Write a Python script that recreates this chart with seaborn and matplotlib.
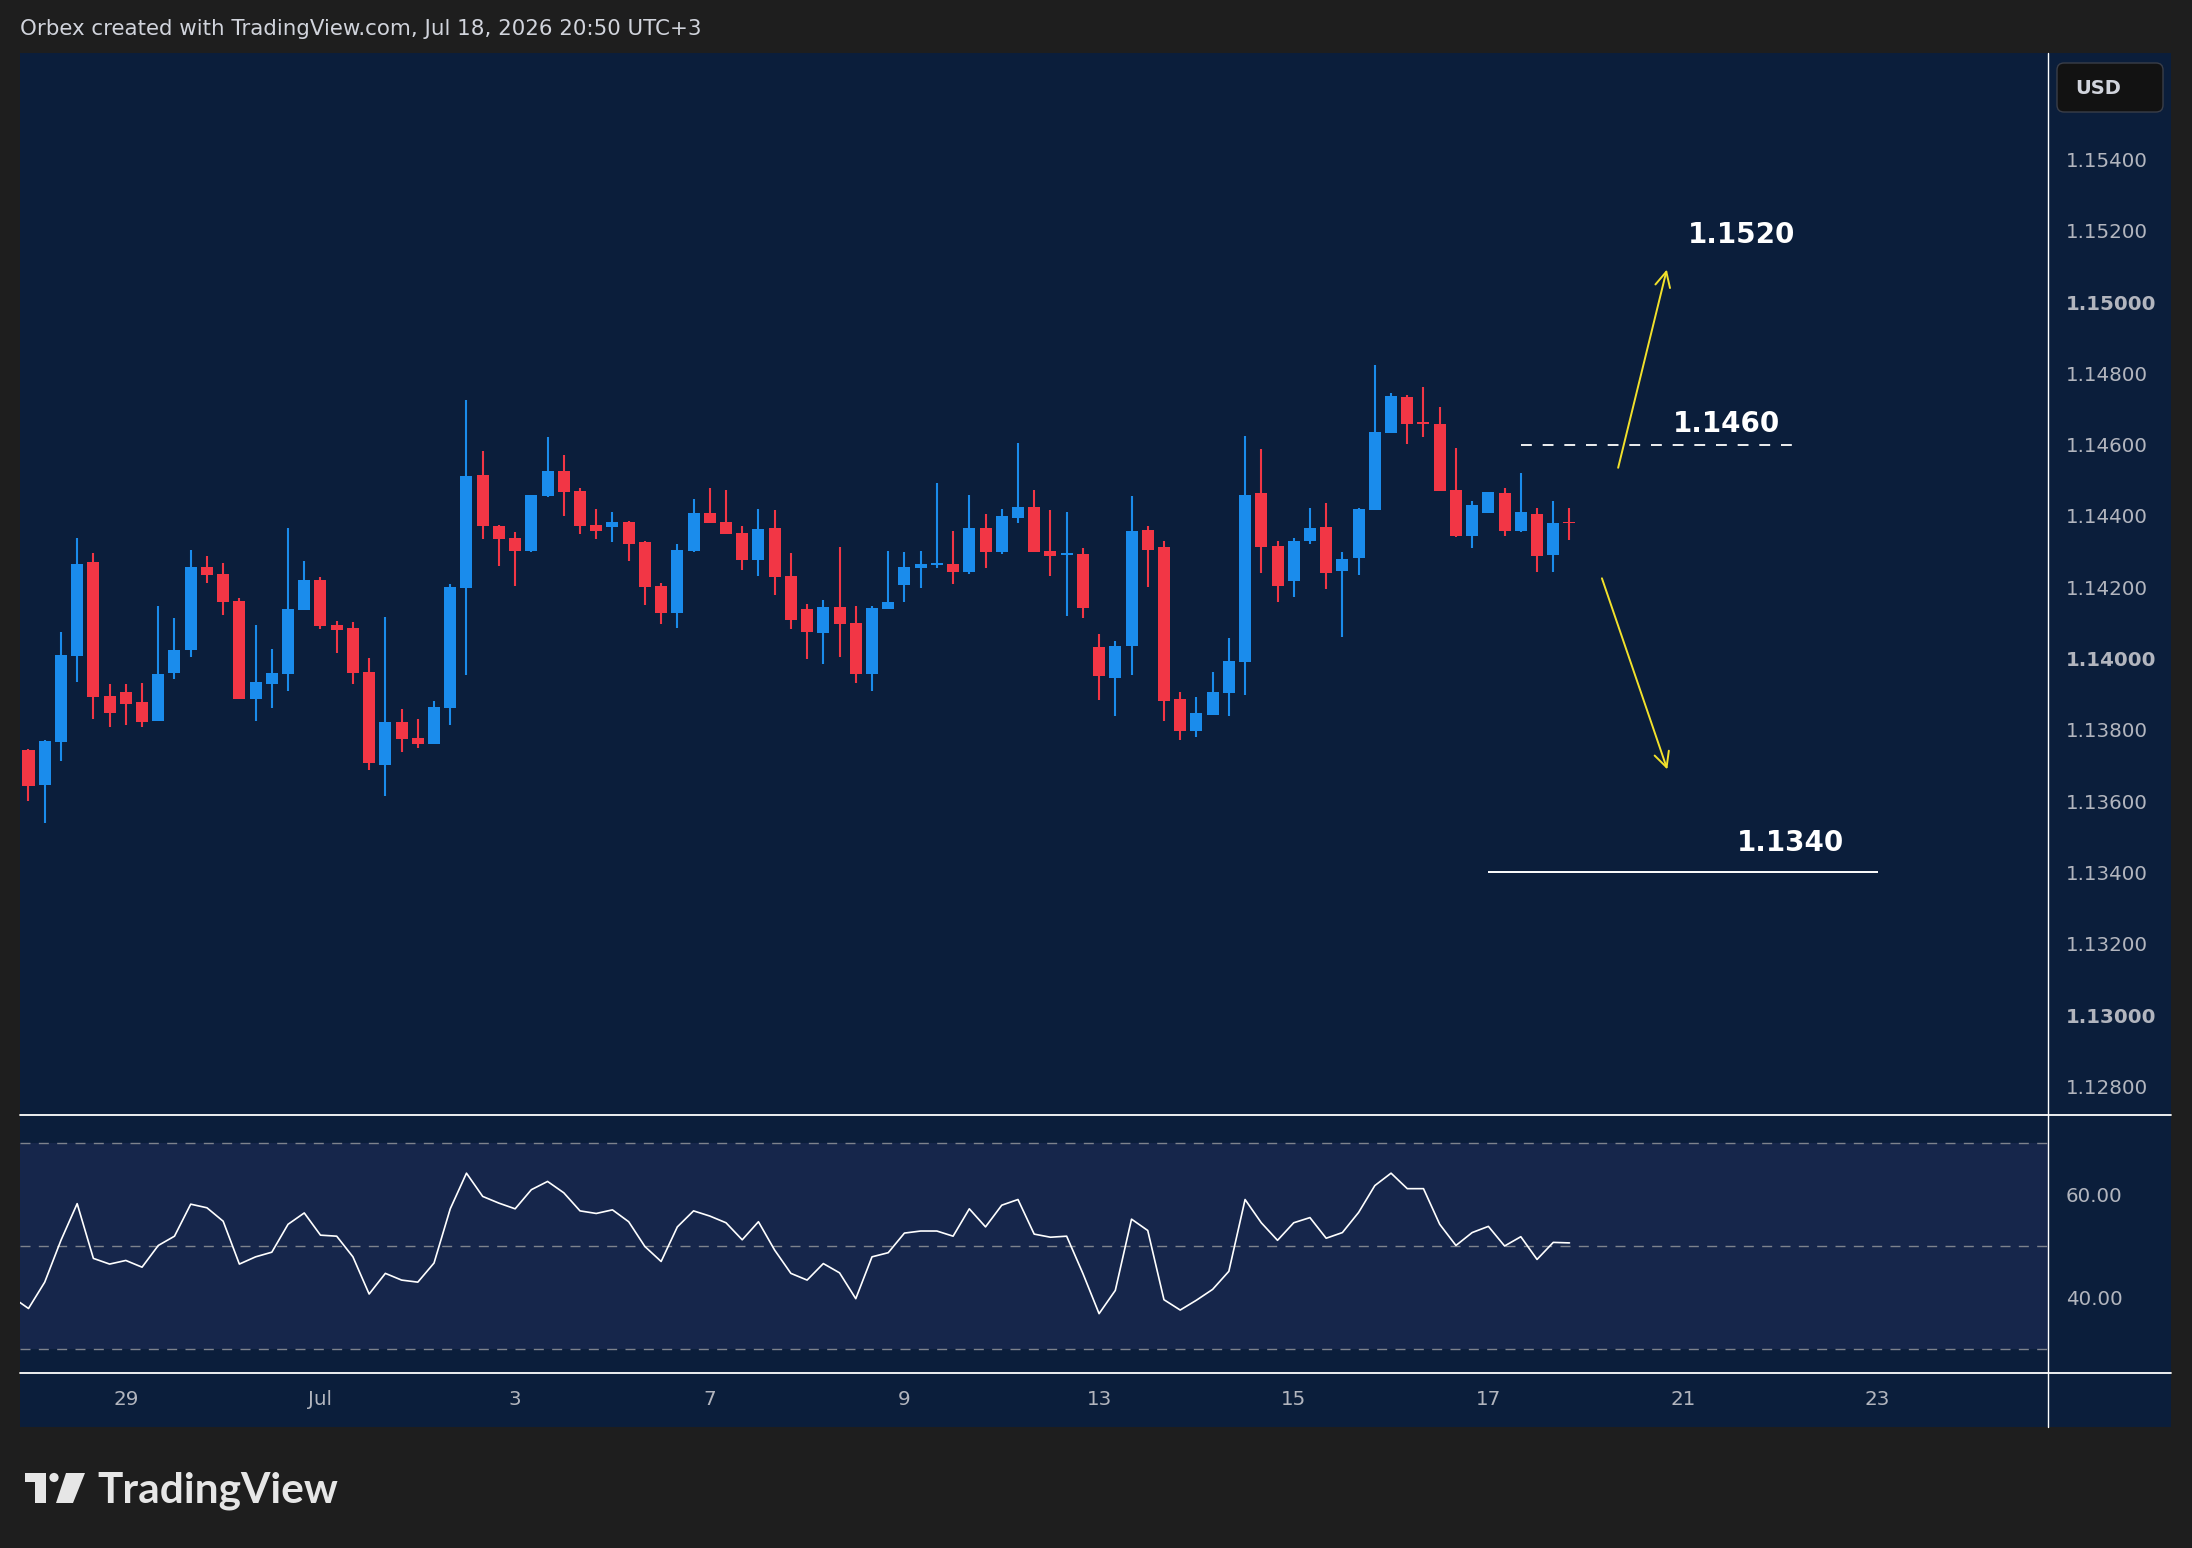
import numpy as np
import matplotlib
matplotlib.use("Agg")
import matplotlib.pyplot as plt
import seaborn as sns
from matplotlib.patches import Rectangle, FancyBboxPatch, Polygon, Circle

# ---------------- data (4H candles, Jun 26 - Jul 17) ----------------
opens = [
    1.13743, 1.13645, 1.13767, 1.14007, 1.14271, 1.13895, 1.13906, 1.13878, 1.13825, 1.13960,
    1.14025, 1.14256, 1.14237, 1.14161, 1.13887, 1.13929, 1.13957, 1.14137, 1.14220, 1.14094,
    1.14085, 1.13962, 1.13702, 1.13822, 1.13777, 1.13761, 1.13862, 1.14198, 1.14515, 1.14371,
    1.14338, 1.14302, 1.14456, 1.14526, 1.14470, 1.14374, 1.14370, 1.14383, 1.14327, 1.14203,
    1.14128, 1.14302, 1.14408, 1.14383, 1.14352, 1.14277, 1.14366, 1.14231, 1.14139, 1.14072,
    1.14144, 1.14099, 1.13957, 1.14140, 1.14207, 1.14255, 1.14263, 1.14265, 1.14243, 1.14366,
    1.14299, 1.14395, 1.14425, 1.14301, 1.14291, 1.14293, 1.14032, 1.13946, 1.14036, 1.14360,
    1.14313, 1.13886, 1.13797, 1.13842, 1.13904, 1.13991, 1.14464, 1.14315, 1.14218, 1.14330,
    1.14369, 1.14246, 1.14282, 1.14417, 1.14633, 1.14733, 1.14664, 1.14657, 1.14472, 1.14344,
    1.14409, 1.14464, 1.14358, 1.14405, 1.14291, 1.14383,
]
highs = [
    1.13746, 1.13771, 1.14074, 1.14338, 1.14296, 1.13928, 1.13928, 1.13931, 1.14147, 1.14113,
    1.14304, 1.14287, 1.14268, 1.14170, 1.14094, 1.14027, 1.14366, 1.14273, 1.14228, 1.14105,
    1.14102, 1.14001, 1.14116, 1.13858, 1.13830, 1.13881, 1.14209, 1.14725, 1.14582, 1.14374,
    1.14355, 1.14458, 1.14621, 1.14571, 1.14478, 1.14419, 1.14411, 1.14386, 1.14329, 1.14212,
    1.14321, 1.14447, 1.14478, 1.14472, 1.14371, 1.14419, 1.14416, 1.14296, 1.14153, 1.14164,
    1.14313, 1.14147, 1.14147, 1.14301, 1.14299, 1.14301, 1.14492, 1.14357, 1.14458, 1.14405,
    1.14419, 1.14604, 1.14472, 1.14416, 1.14411, 1.14310, 1.14069, 1.14049, 1.14456, 1.14371,
    1.14329, 1.13906, 1.13892, 1.13962, 1.14057, 1.14624, 1.14587, 1.14329, 1.14338, 1.14422,
    1.14436, 1.14298, 1.14422, 1.14823, 1.14744, 1.14739, 1.14761, 1.14705, 1.14590, 1.14441,
    1.14467, 1.14478, 1.14520, 1.14422, 1.14441, 1.14422,
]
lows = [
    1.13601, 1.13539, 1.13713, 1.13935, 1.13831, 1.13809, 1.13814, 1.13809, 1.13825, 1.13943,
    1.14005, 1.14213, 1.14123, 1.13887, 1.13825, 1.13862, 1.13910, 1.14137, 1.14084, 1.14016,
    1.13929, 1.13688, 1.13615, 1.13739, 1.13750, 1.13761, 1.13814, 1.13954, 1.14336, 1.14260,
    1.14204, 1.14299, 1.14454, 1.14400, 1.14350, 1.14336, 1.14328, 1.14274, 1.14151, 1.14098,
    1.14086, 1.14299, 1.14381, 1.14350, 1.14249, 1.14232, 1.14179, 1.14084, 1.13999, 1.13985,
    1.14005, 1.13932, 1.13910, 1.14140, 1.14159, 1.14199, 1.14255, 1.14210, 1.14238, 1.14255,
    1.14294, 1.14381, 1.14299, 1.14232, 1.14120, 1.14114, 1.13884, 1.13840, 1.13954, 1.14201,
    1.13825, 1.13772, 1.13781, 1.13842, 1.13840, 1.13898, 1.14240, 1.14159, 1.14173, 1.14322,
    1.14196, 1.14061, 1.14235, 1.14417, 1.14633, 1.14602, 1.14622, 1.14470, 1.14341, 1.14310,
    1.14409, 1.14344, 1.14355, 1.14243, 1.14243, 1.14333,
]
closes = [
    1.13643, 1.13768, 1.14010, 1.14265, 1.13893, 1.13848, 1.13873, 1.13823, 1.13956, 1.14024,
    1.14256, 1.14235, 1.14159, 1.13887, 1.13934, 1.13959, 1.14139, 1.14220, 1.14092, 1.14081,
    1.13960, 1.13708, 1.13822, 1.13775, 1.13761, 1.13864, 1.14200, 1.14512, 1.14372, 1.14336,
    1.14302, 1.14458, 1.14526, 1.14468, 1.14372, 1.14358, 1.14383, 1.14322, 1.14201, 1.14128,
    1.14304, 1.14408, 1.14381, 1.14350, 1.14277, 1.14363, 1.14229, 1.14109, 1.14075, 1.14144,
    1.14098, 1.13957, 1.14142, 1.14158, 1.14256, 1.14265, 1.14268, 1.14243, 1.14366, 1.14299,
    1.14400, 1.14425, 1.14299, 1.14288, 1.14297, 1.14142, 1.13952, 1.14035, 1.14357, 1.14305,
    1.13882, 1.13797, 1.13847, 1.13906, 1.13993, 1.14458, 1.14313, 1.14204, 1.14329, 1.14366,
    1.14240, 1.14279, 1.14419, 1.14635, 1.14736, 1.14658, 1.14659, 1.14470, 1.14344, 1.14430,
    1.14467, 1.14358, 1.14411, 1.14288, 1.14380, 1.14379,
]
# RSI: first value belongs to the bar just left of the visible window
rsi_values = [
    40.1,
    37.9, 43.0, 51.1, 58.2, 47.6, 46.5, 47.2, 45.9, 50.1, 51.9,
    58.1, 57.4, 54.8, 46.5, 47.9, 48.8, 54.2, 56.4, 52.1, 51.9,
    47.9, 40.7, 44.7, 43.4, 43.0, 46.7, 57.2, 64.1, 59.6, 58.3,
    57.2, 60.9, 62.5, 60.3, 56.8, 56.3, 57.0, 54.7, 49.9, 47.0,
    53.7, 56.8, 55.8, 54.5, 51.2, 54.7, 49.2, 44.7, 43.4, 46.6,
    44.8, 39.8, 47.9, 48.7, 52.5, 52.9, 52.9, 51.9, 57.2, 53.7,
    57.9, 59.0, 52.3, 51.7, 51.9, 44.7, 36.9, 41.4, 55.2, 53.0,
    39.6, 37.6, 39.5, 41.6, 45.1, 59.0, 54.5, 51.1, 54.5, 55.5,
    51.5, 52.6, 56.5, 61.7, 64.1, 61.1, 61.1, 54.2, 50.1, 52.6,
    53.8, 50.0, 51.8, 47.4, 50.7, 50.6,
]
date_labels = ["29", "Jul", "3", "7", "9", "13", "15", "17", "21", "23"]
date_label_bars = [6, 18, 30, 42, 54, 66, 78, 90, 102, 114]
price_ticks = [1.128, 1.130, 1.132, 1.134, 1.136, 1.138, 1.140, 1.142, 1.144,
               1.146, 1.148, 1.150, 1.152, 1.154]
rsi_ticks = [40, 60]
rsi_levels = [70, 50, 30]
level_up = 1.1520
level_pivot = 1.1460
level_down = 1.1340

# ---------------- style ----------------
FRAME = "#1e1e1e"
NAVY = "#0b1e3b"
BAND = "#16264b"
BLUE = "#1a8cec"
RED = "#f23645"
LABEL = "#b2b5be"
YELLOW = "#f2e12b"

sns.set_theme(style="dark")
plt.rcParams["font.family"] = ["DejaVu Sans"]

W, H = 2192, 1548
fig = plt.figure(figsize=(W / 100, H / 100), dpi=100, facecolor=FRAME)


def fx(px):
    return px / W


def fy(py):
    return 1 - py / H


# background navy chart area
bg = fig.add_axes([0, 0, 1, 1], zorder=0)
bg.set_xlim(0, W)
bg.set_ylim(H, 0)
bg.axis("off")
bg.add_patch(Rectangle((20, 53), 2151, 1374, color=NAVY, lw=0))

X0, X1 = -0.524, 124.5

# ---------------- price pane ----------------
ax = fig.add_axes([fx(20), fy(1115), fx(2048) - fx(20), fy(53) - fy(1115)], zorder=2)
ax.set_facecolor(NAVY)
o = np.array(opens); h = np.array(highs); l = np.array(lows); c = np.array(closes)
x = np.arange(len(o))
cols = np.where(c >= o, BLUE, RED)
ax.vlines(x, l, h, colors=cols, lw=1.5, zorder=2)
ax.bar(x, np.maximum(np.abs(c - o), 0.00003), bottom=np.minimum(o, c), width=0.74,
       color=cols, lw=0, zorder=3)

ax.set_xlim(X0, X1)
ax.set_ylim(1.127195, 1.156985)
for s in ax.spines.values():
    s.set_visible(False)
ax.grid(False)
ax.set_xticks([])
ax.yaxis.tick_right()
ax.set_yticks(price_ticks)
ax.set_yticklabels([f"{t:.5f}" for t in price_ticks])
ax.tick_params(axis="y", length=0, pad=13, labelsize=14.3, labelcolor=LABEL)
for lbl in ax.get_yticklabels():
    if lbl.get_text().endswith("000"):
        lbl.set_fontweight("bold")

# annotations
ax.hlines(level_pivot, 92.0, 108.9, colors="white", lw=1.3, linestyles=(0, (6, 6)), zorder=4)
ax.hlines(level_down, 90.0, 114.0, colors="white", lw=1.4, zorder=4)
tkw = dict(color="white", fontsize=20, fontweight="bold", ha="center", va="center")
ax.annotate("1.1520", xy=(105.6, level_up), xytext=(0, -3), textcoords="offset points", **tkw)
ax.annotate("1.1460", xy=(104.65, level_pivot), xytext=(0, 15), textcoords="offset points", **tkw)
ax.annotate("1.1340", xy=(108.65, level_down), xytext=(0, 21.5), textcoords="offset points", **tkw)
akw = dict(arrowstyle="->,head_length=0.4,head_width=0.2", color=YELLOW, lw=1.4,
           mutation_scale=27, shrinkA=0, shrinkB=0)
ax.annotate("", xy=(101.0, 1.15091), xytext=(98.0, 1.14535), arrowprops=akw)
ax.annotate("", xy=(101.03, 1.13689), xytext=(97.0, 1.14225), arrowprops=akw)

# ---------------- RSI pane ----------------
axr = fig.add_axes([fx(20), fy(1373), fx(2048) - fx(20), fy(1116) - fy(1373)], zorder=2)
axr.set_facecolor(NAVY)
axr.axhspan(30, 70, color=BAND, lw=0, zorder=0)
for lv in rsi_levels:
    axr.axhline(lv, color="#7d828d", lw=1.0, ls=(0, (7.2, 6.0)), zorder=1)
rsi_x = np.arange(-1, len(rsi_values) - 1)
sns.lineplot(x=rsi_x, y=rsi_values, ax=axr, color="white", lw=1.2, zorder=3)
axr.set_xlim(X0, X1)
axr.set_ylim(25.41, 75.17)
for s in axr.spines.values():
    s.set_visible(False)
axr.grid(False)
axr.set_xlabel("")
axr.set_ylabel("")
axr.yaxis.tick_right()
axr.set_yticks(rsi_ticks)
axr.set_yticklabels([f"{t:.2f}" for t in rsi_ticks])
axr.tick_params(axis="y", length=0, pad=13, labelsize=14.3, labelcolor=LABEL)
axr.set_xticks(date_label_bars)
axr.set_xticklabels(date_labels)
axr.tick_params(axis="x", length=0, pad=12, labelsize=14.3, labelcolor=LABEL)

# ---------------- overlay: frame lines, header, logo ----------------
ov = fig.add_axes([0, 0, 1, 1], zorder=5)
ov.set_xlim(0, W)
ov.set_ylim(H, 0)
ov.axis("off")
ov.plot([20, 2171], [1115, 1115], color="white", lw=1.3)
ov.plot([20, 2171], [1373, 1373], color="white", lw=1.3)
ov.plot([2048, 2048], [53, 1427], color="white", lw=1.0)

ov.text(20, 29, "Orbex created with TradingView.com, Jul 18, 2026 20:50 UTC+3",
        color="#d1d4dc", fontsize=15.4, ha="left", va="center")

ov.add_patch(FancyBboxPatch((2057, 63), 106, 49, boxstyle="round,pad=0,rounding_size=7",
                            fc="#121212", ec="#3a3e48", lw=1.0))
ov.text(2075, 88, "USD", color="#d1d4dc", fontsize=14, fontweight="bold",
        ha="left", va="center")

# TradingView logo
LOGO = "#e6e6e6"
ov.add_patch(Polygon([(25, 1473), (46, 1473), (46, 1503), (35, 1503), (35, 1482), (25, 1482)],
                     closed=True, fc=LOGO, ec="none"))
ov.add_patch(Circle((54, 1477.5), 4.6, fc=LOGO, ec="none"))
ov.add_patch(Polygon([(66, 1473), (85, 1473), (73, 1503), (56, 1503)], closed=True,
                     fc=LOGO, ec="none"))
ov.text(97, 1503, "TradingView", color=LOGO, fontsize=30.5, fontweight="bold",
        family=["Lato", "DejaVu Sans"], ha="left", va="baseline")

fig.savefig("out.png", dpi=100, facecolor=FRAME)
